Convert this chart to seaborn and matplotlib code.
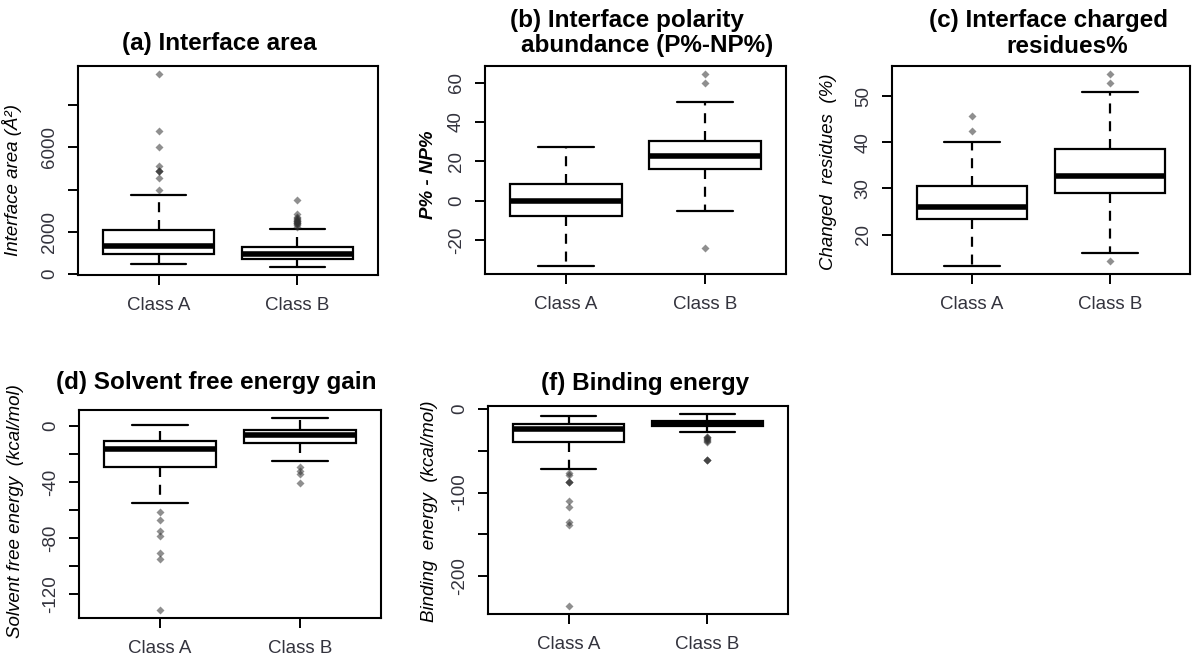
import numpy as np
import pandas as pd
import matplotlib
matplotlib.use("Agg")
import matplotlib.pyplot as plt
import seaborn as sns

# ---------------- data ----------------
categories = ["Class A", "Class B"]

# (a) Interface area
area_lo = [470, 330]
area_q1 = [938, 703]
area_med = [1341, 938]
area_q3 = [2092, 1266]
area_hi = [3733, 2157]
area_out_A = [3968, 4549, 4906, 4906, 4906, 5126, 6003, 6768, 9487]
area_out_B = [2230, 2330, 2360, 2400, 2430, 2460, 2500, 2540, 2580, 2620,
              2660, 2690, 2830, 3500]

# (b) Interface polarity abundance (P%-NP%)
pol_lo = [-33.4, -5.2]
pol_q1 = [-7.9, 16.0]
pol_med = [0.0, 22.9]
pol_q3 = [8.2, 30.4]
pol_hi = [27.0, 50.0]
pol_out_A = []
pol_out_B = [-24.0, 60.0, 64.5]

# (c) Interface charged residues%
chg_lo = [13.2, 16.1]
chg_q1 = [23.3, 29.1]
chg_med = [26.1, 32.8]
chg_q3 = [30.5, 38.5]
chg_hi = [40.0, 50.85]
chg_out_A = [42.4, 45.65]
chg_out_B = [14.3, 52.9, 54.85]

# (d) Solvent free energy gain
sol_lo = [-54.9, -25.0]
sol_q1 = [-28.8, -12.0]
sol_med = [-16.5, -5.9]
sol_q3 = [-10.6, -2.4]
sol_hi = [1.2, 6.1]
sol_out_A = [-61.0, -66.9, -74.7, -78.3, -90.7, -94.5, -131.3]
sol_out_B = [-29.2, -32.0, -34.4, -40.8]

# (f) Binding energy
bind_lo = [-71.9, -27.7]
bind_q1 = [-39.9, -20.8]
bind_med = [-24.1, -17.4]
bind_q3 = [-18.2, -14.5]
bind_hi = [-7.9, -5.5]
bind_out_A = [-76.3, -79.4, -87.3, -87.3, -87.3, -109.9, -117.8, -134.8,
              -138.7, -236.4]
bind_out_B = [-33.0, -34.0, -35.0, -36.0, -37.0, -38.0, -39.0,
              -61.2, -61.2, -61.2]

# ---------------- style ----------------
sns.set_theme(style="white")
plt.rcParams["font.family"] = ["Liberation Sans", "DejaVu Sans"]
plt.rcParams.update({
    "axes.edgecolor": "black",
    "axes.linewidth": 1.5,
    "xtick.color": "black",
    "ytick.color": "black",
})

REP = 50  # weight of each quartile value in the table passed to seaborn


def table(lo, q1, med, q3, hi, out_a, out_b):
    rows = []
    for cat, l, a, m, b, h, out in zip(categories, lo, q1, med, q3, hi,
                                       [out_a, out_b]):
        vals = [l] + [a] * REP + [m] * REP + [b] * REP + [h] + list(out)
        rows.extend((cat, v) for v in vals)
    return pd.DataFrame(rows, columns=["cls", "val"])


panels = [
    dict(rect=[0.065, 0.5871, 0.25, 0.3138],
         df=table(area_lo, area_q1, area_med, area_q3, area_hi, area_out_A, area_out_B),
         whis=1.6, ylim=(-38, 9853),
         yticks=[0, 2000, 4000, 6000, 8000], ytl=["0", "2000", "", "6000", ""],
         ylabel="Interface area (Å²)", ylab=(-0.187, 0.455), ybold=False,
         titles=[("(a) Interface area", 0.47, 1.077)]),
    dict(rect=[0.4042, 0.5886, 0.2508, 0.3123],
         df=table(pol_lo, pol_q1, pol_med, pol_q3, pol_hi, pol_out_A, pol_out_B),
         whis=1.8, ylim=(-37.3, 68.4),
         yticks=[-20, 0, 20, 40, 60], ytl=["-20", "0", "20", "40", "60"],
         ylabel="P% - NP%", ylab=(-0.159, 0.476), ybold=True,
         titles=[("(b) Interface polarity", 0.470, 1.1875),
                 ("abundance (P%-NP%)", 0.537, 1.067)]),
    dict(rect=[0.7433, 0.5886, 0.2483, 0.3123],
         df=table(chg_lo, chg_q1, chg_med, chg_q3, chg_hi, chg_out_A, chg_out_B),
         whis=1.5, ylim=(11.5, 56.5),
         yticks=[20, 30, 40, 50], ytl=["20", "30", "40", "50"],
         ylabel="Changed  residues  (%)", ylab=(-0.185, 0.49), ybold=False,
         titles=[("(c) Interface charged", 0.525, 1.1875),
                 ("residues%", 0.589, 1.0625)]),
    dict(rect=[0.0658, 0.0721, 0.2517, 0.3123],
         df=table(sol_lo, sol_q1, sol_med, sol_q3, sol_hi, sol_out_A, sol_out_B),
         whis=1.5, ylim=(-136.8, 11.6),
         yticks=[0, -20, -40, -60, -80, -100, -120],
         ytl=["0", "", "-40", "", "-80", "", "-120"],
         ylabel="Solvent free energy  (kcal/mol)", ylab=(-0.182, 0.514), ybold=False,
         titles=[("(d) Solvent free energy gain", 0.454, 1.101)]),
    dict(rect=[0.4067, 0.0781, 0.25, 0.3123],
         df=table(bind_lo, bind_q1, bind_med, bind_q3, bind_hi, bind_out_A, bind_out_B),
         whis=1.55, ylim=(-245.6, 3.7),
         yticks=[0, -50, -100, -150, -200], ytl=["0", "", "-100", "", "-200"],
         ylabel="Binding  energy  (kcal/mol)", ylab=(-0.167, 0.493), ybold=False,
         titles=[("(f) Binding energy", 0.523, 1.077)]),
]

fig = plt.figure(figsize=(12, 6.66), dpi=100)

for p in panels:
    ax = fig.add_axes(p["rect"])
    sns.boxplot(data=p["df"], x="cls", y="val", order=categories, ax=ax,
                color="white", linecolor="black", linewidth=1.6, width=0.8,
                whis=p["whis"], fliersize=3.6,
                medianprops=dict(linewidth=4.0, solid_capstyle="butt"),
                whiskerprops=dict(linestyle=(0, (4.5, 3.5))),
                flierprops=dict(marker="D", markerfacecolor="#333333",
                                markeredgecolor="none", alpha=0.55))
    ax.set_xlim(-0.58, 1.58)
    ax.set_ylim(*p["ylim"])
    ax.set_xlabel("")
    ax.set_yticks(p["yticks"])
    ax.set_yticklabels(p["ytl"], rotation=90, va="center")
    ax.set_xticks(range(len(categories)))
    ax.set_xticklabels(categories)
    ax.tick_params(axis="both", direction="out", length=7, width=1.4,
                   bottom=True, left=True, labelcolor="#33333d")
    ax.tick_params(axis="x", labelsize=13.5, pad=8.5)
    ax.tick_params(axis="y", labelsize=13.5, pad=7.5)
    for s in ax.spines.values():
        s.set_visible(True)
        s.set_color("black")
        s.set_linewidth(1.5)
    ax.set_ylabel(p["ylabel"], fontsize=13.5, style="italic",
                  fontweight="bold" if p["ybold"] else "normal", color="black")
    ax.yaxis.set_label_coords(*p["ylab"])
    for txt, tx, ty in p["titles"]:
        ax.text(tx, ty, txt, transform=ax.transAxes, ha="center",
                va="baseline", fontsize=17.5, fontweight="bold", color="black")

fig.savefig("out.png", dpi=100, facecolor="white")
